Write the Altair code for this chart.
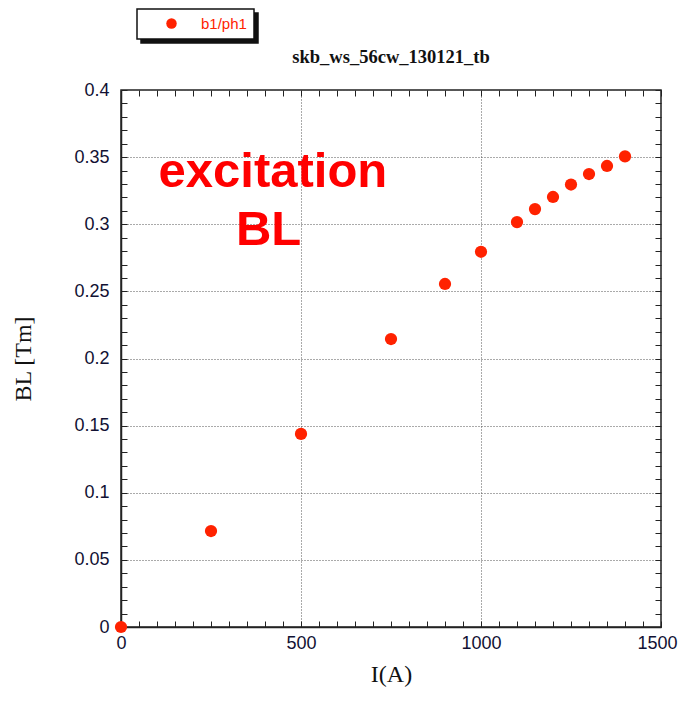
import altair as alt
import pandas as pd

current = [0, 250, 500, 750, 900, 1000, 1100, 1150, 1200, 1250, 1300, 1350, 1400]
bl_values = [0.0, 0.0715, 0.1438, 0.2145, 0.2555, 0.2795, 0.3016, 0.3113, 0.3203, 0.3296, 0.3374, 0.3434, 0.3506]
series_name = "b1/ph1"

x_major = [0, 500, 1000, 1500]
y_major = [0, 0.05, 0.1, 0.15, 0.2, 0.25, 0.3, 0.35, 0.4]
x_minor = list(range(0, 1501, 50))
y_minor = [round(i * 0.01, 2) for i in range(41)]

note_text = ["excitation", "BL"]
note_x = [422, 410]
note_y = [0.3277, 0.2845]

W, H = 540, 537

df = pd.DataFrame({"current": current, "bl": bl_values,
                   "series": [series_name] * len(current),
                   "shadow": [series_name] * len(current)})
notes = pd.DataFrame({"text": note_text, "x": note_x, "y": note_y})

xs = alt.Scale(domain=[0, 1500], nice=False, zero=False)
ys = alt.Scale(domain=[0, 0.4], nice=False)

label_font = "Liberation Sans"
serif = "Liberation Serif"
lab_col = "#111133"

legend_common = dict(orient="none", title=None, padding=7, symbolType="circle",
                     symbolSize=110, symbolOffset=20, symbolStrokeWidth=0, labelOffset=22,
                     labelFont=label_font, labelFontSize=15)

points = alt.Chart(df).mark_circle(size=150, opacity=1).encode(
    x=alt.X("current:Q", scale=xs, axis=alt.Axis(
        orient="bottom", values=x_major, format="d", title="I(A)", grid=True,
        gridDash=[1, 2], gridColor="#555555", gridWidth=1, ticks=False,
        domain=True, domainColor="#222222", domainWidth=1.5, labelFlush=False,
        labelOffset={"condition": {"test": "datum.value === 1500", "value": -4}, "value": 0},
        labelFont=label_font, labelFontSize=18, labelColor=lab_col, labelPadding=7,
        titleFont=serif, titleFontSize=24, titleFontWeight="normal", titleColor="#111111",
        titlePadding=10)),
    y=alt.Y("bl:Q", scale=ys, axis=alt.Axis(
        orient="left", values=y_major, format="~g", title="BL [Tm]", grid=True,
        gridDash=[1, 2], gridColor="#555555", gridWidth=1, ticks=False,
        domain=True, domainColor="#222222", domainWidth=1.5, labelFlush=False,
        labelFont=label_font, labelFontSize=18, labelColor=lab_col, labelPadding=12,
        titleFont=serif, titleFontSize=24, titleFontWeight="normal", titleColor="#111111",
        titlePadding=38)),
    color=alt.Color("series:N", scale=alt.Scale(range=["#ff2200"]), legend=alt.Legend(
        legendX=16, legendY=-81, fillColor="white", strokeColor="#111111",
        labelColor="#ff2200", zindex=2, **legend_common)),
)

ticks_a = alt.Chart(df).mark_point(opacity=0).encode(
    x=alt.X("current:Q", scale=xs, axis=alt.Axis(
        orient="top", offset=-H, values=x_minor, labels=False, domain=False,
        grid=False, tickSize=6, tickColor="#222222", tickWidth=1, title=None)),
    y=alt.Y("bl:Q", scale=ys, axis=alt.Axis(
        orient="right", offset=-W, values=y_minor, labels=False, domain=False,
        grid=False, tickSize=6, tickColor="#222222", tickWidth=1, title=None)),
    shape=alt.Shape("shadow:N", legend=alt.Legend(
        legendX=20, legendY=-77, fillColor="#111111", strokeColor="#111111",
        labelColor="#111111", labelOpacity=0, symbolOpacity=0, zindex=1, **legend_common)),
)

ticks_b = alt.Chart(df).mark_point(opacity=0).encode(
    x=alt.X("current:Q", scale=xs, axis=alt.Axis(
        orient="bottom", offset=-H, values=x_minor, labels=False, domain=False,
        grid=False, tickSize=6, tickColor="#222222", tickWidth=1, title=None)),
    y=alt.Y("bl:Q", scale=ys, axis=alt.Axis(
        orient="left", offset=-W, values=y_minor, labels=False, domain=False,
        grid=False, tickSize=6, tickColor="#222222", tickWidth=1, title=None)),
)

text = alt.Chart(notes).mark_text(
    font="Liberation Sans", fontSize=49, fontWeight="bold", color="#ff0000",
    align="center", baseline="alphabetic").encode(
    x=alt.X("x:Q", scale=xs, axis=None),
    y=alt.Y("y:Q", scale=ys, axis=None),
    text="text:N",
)

chart = alt.layer(ticks_a, ticks_b, points, text).resolve_axis(
    x="independent", y="independent"
).properties(
    width=W, height=H,
    title=alt.TitleParams("skb_ws_56cw_130121_tb", font=serif, fontSize=18.5,
                          fontWeight="bold", color="#111111", anchor="middle",
                          offset=0, dy=58),
    autosize=alt.AutoSizeParams(type="none"),
    padding={"left": 113, "top": 82, "right": 17, "bottom": 66},
).configure_view(stroke="#222222", strokeWidth=1.5).configure_legend(strokeWidth=1.5)

chart.save("out.html", embed_options={"renderer": "svg", "actions": False})
